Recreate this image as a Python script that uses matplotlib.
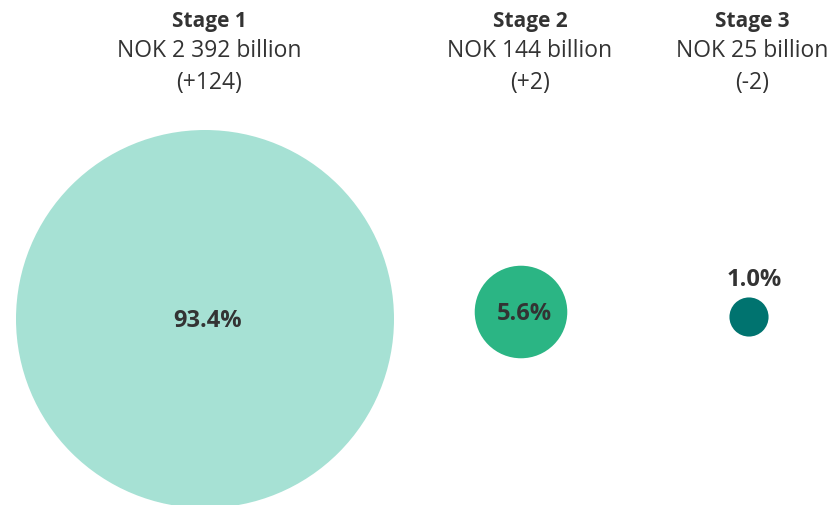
import numpy as np
import matplotlib
matplotlib.use("Agg")
import matplotlib.pyplot as plt
from matplotlib.patches import Circle

# Data
stages = ["Stage 1", "Stage 2", "Stage 3"]
amounts = ["NOK 2 392 billion", "NOK 144 billion", "NOK 25 billion"]
changes = ["(+124)", "(+2)", "(-2)"]
shares = [93.4, 5.6, 1.0]
colors = ["#a6e1d4", "#2bb584", "#00736f"]

# Layout (pixel space)
W, H = 833, 506
circle_x = [205, 521, 749]
circle_y = [320, 313, 318]
header_x = [209, 530, 752]
r_scale = 189 / np.sqrt(shares[0])

fig = plt.figure(figsize=(W / 100, H / 100), dpi=100)
ax = fig.add_axes([0, 0, 1, 1])
ax.set_xlim(0, W)
ax.set_ylim(H, 0)
ax.set_aspect("equal")
ax.axis("off")

font = "Open Sans"
txt_color = "#333333"

for i in range(3):
    r = r_scale * np.sqrt(shares[i])
    ax.add_patch(Circle((circle_x[i], circle_y[i]), r, facecolor=colors[i], edgecolor="none"))
    label = f"{shares[i]:.1f}%"
    if r > 30:
        ax.text(circle_x[i] + 3, circle_y[i] + 1, label, ha="center", va="center",
                fontsize=17, fontweight="bold", family=font, color=txt_color)
    else:
        ax.text(circle_x[i] + 5, circle_y[i] - r - 18, label, ha="center", va="center",
                fontsize=17, fontweight="bold", family=font, color=txt_color)
    ax.text(header_x[i], 21, stages[i], ha="center", va="center",
            fontsize=15, fontweight="bold", family=font, color=txt_color)
    ax.text(header_x[i], 51, amounts[i], ha="center", va="center",
            fontsize=16.5, family=font, color=txt_color)
    ax.text(header_x[i], 83, changes[i], ha="center", va="center",
            fontsize=16.5, family=font, color=txt_color)

fig.savefig("out.png", dpi=100)
